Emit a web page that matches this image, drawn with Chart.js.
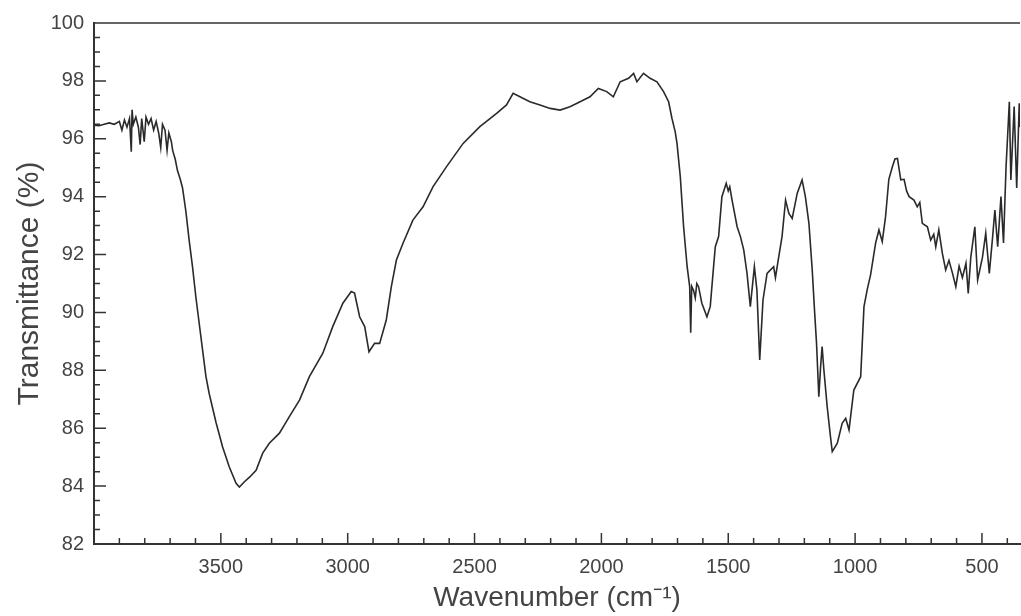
<!DOCTYPE html>
<html>
<head>
<meta charset="utf-8">
<script src="https://cdn.jsdelivr.net/npm/chart.js@4/dist/chart.umd.min.js"></script>
<style>
  html, body { margin: 0; padding: 0; background: #fff; }
</style>
</head>
<body>
<canvas id="irChart" width="1021" height="616"></canvas>
<script>
// spectrum (wavenumber in cm-1, transmittance in %)
var wavenumbers = [
  4000, 3980, 3960, 3940, 3920, 3900, 3890, 3880, 3870, 3860,
  3853, 3850, 3845, 3835, 3825, 3818, 3812, 3802, 3795, 3785,
  3775, 3765, 3755, 3745, 3737, 3730, 3720, 3712, 3705, 3695,
  3690, 3680, 3671, 3660, 3651, 3638, 3625, 3612, 3598, 3585,
  3572, 3559, 3546, 3519, 3493, 3467, 3440, 3427, 3407, 3388,
  3361, 3335, 3309, 3269, 3230, 3190, 3151, 3098, 3059, 3019,
  2986, 2973, 2953, 2933, 2916, 2894, 2874, 2848, 2828, 2808,
  2782, 2743, 2703, 2664, 2611, 2545, 2479, 2413, 2374, 2348,
  2321, 2282, 2242, 2202, 2163, 2124, 2084, 2045, 2012, 1979,
  1953, 1926, 1893, 1873, 1860, 1834, 1808, 1781, 1755, 1735,
  1722, 1709, 1702, 1689, 1676, 1662, 1652, 1648, 1644, 1637,
  1630, 1624, 1617, 1604, 1584, 1571, 1560, 1551, 1538, 1525,
  1508, 1500, 1494, 1485, 1465, 1452, 1439, 1426, 1413, 1397,
  1387, 1376, 1363, 1347, 1321, 1314, 1301, 1288, 1274, 1261,
  1248, 1228, 1209, 1196, 1182, 1169, 1160, 1152, 1143, 1136,
  1130, 1123, 1110, 1097, 1090, 1070, 1051, 1037, 1024, 1005,
  978, 965, 952, 939, 919, 906, 893, 880, 867, 853,
  843, 833, 820, 807, 797, 787, 768, 755, 745, 735,
  715, 702, 690, 682, 670, 656, 643, 630, 616, 603,
  590, 577, 563, 554, 544, 528, 517, 498, 485, 471,
  458, 449, 438, 425, 415, 405, 392, 386, 373, 363,
  353, 350
];
var transmittance = [
  96.47, 96.45, 96.50, 96.55, 96.50, 96.60, 96.30, 96.65, 96.40, 96.70,
  95.55, 97.00, 96.50, 96.75, 96.40, 95.80, 96.70, 95.90, 96.75, 96.50,
  96.70, 96.30, 96.60, 96.20, 95.70, 96.50, 96.30, 95.60, 96.20, 95.90,
  95.60, 95.30, 94.90, 94.60, 94.30, 93.50, 92.50, 91.60, 90.50, 89.60,
  88.70, 87.80, 87.20, 86.20, 85.35, 84.67, 84.10, 83.97, 84.15, 84.30,
  84.55, 85.14, 85.48, 85.83, 86.40, 86.97, 87.78, 88.59, 89.51, 90.32,
  90.72, 90.67, 89.85, 89.51, 88.64, 88.93, 88.93, 89.74, 90.89, 91.81,
  92.39, 93.19, 93.65, 94.34, 95.03, 95.84, 96.42, 96.88, 97.17, 97.57,
  97.45, 97.28, 97.17, 97.05, 96.99, 97.11, 97.28, 97.45, 97.74, 97.63,
  97.45, 97.97, 98.09, 98.26, 97.97, 98.26, 98.09, 97.97, 97.63, 97.28,
  96.71, 96.24, 95.84, 94.69, 92.96, 91.58, 90.89, 89.30, 90.90, 90.77,
  90.50, 91.00, 90.89, 90.32, 89.85, 90.20, 91.36, 92.27, 92.62, 94.00,
  94.46, 94.20, 94.34, 93.88, 92.96, 92.62, 92.16, 91.35, 90.20, 91.58,
  90.77, 88.36, 90.43, 91.35, 91.58, 91.20, 91.92, 92.62, 93.88, 93.42,
  93.25, 94.12, 94.58, 94.00, 93.08, 91.47, 90.08, 88.93, 87.09, 88.12,
  88.82, 88.01, 86.74, 85.70, 85.19, 85.48, 86.17, 86.34, 85.94, 87.32,
  87.78, 90.20, 90.80, 91.30, 92.40, 92.85, 92.45, 93.30, 94.60, 95.03,
  95.30, 95.32, 94.58, 94.60, 94.20, 94.00, 93.88, 93.65, 93.80, 93.08,
  92.96, 92.50, 92.70, 92.27, 92.85, 92.04, 91.47, 91.80, 91.35, 90.89,
  91.60, 91.20, 91.70, 90.66, 91.90, 92.96, 91.12, 91.90, 92.74, 91.35,
  92.60, 93.54, 92.27, 94.00, 92.40, 95.03, 97.28, 94.58, 97.11, 94.30,
  97.23, 96.40
];
var xTickValues = [3500, 3000, 2500, 2000, 1500, 1000, 500];
var yTickValues = [82, 84, 86, 88, 90, 92, 94, 96, 98, 100];

var axisColor = '#333';
var fontFamily = 'Liberation Sans, Arial, sans-serif';

// inward tick marks plus the top frame line
var innerTicks = {
    id: 'innerTicks',
    afterDraw: function (chart) {
        var ctx = chart.ctx;
        var xs = chart.scales.x;
        var ys = chart.scales.y;
        var area = chart.chartArea;
        ctx.save();
        ctx.strokeStyle = axisColor;
        ctx.lineWidth = 1.5;
        ctx.beginPath();
        ctx.moveTo(area.left, area.top);
        ctx.lineTo(area.right, area.top);
        for (var w = 3900; w >= 400; w -= 100) {
            var px = xs.getPixelForValue(w);
            var lx = (w % 500 === 0) ? 11 : 6;
            ctx.moveTo(px, area.bottom);
            ctx.lineTo(px, area.bottom - lx);
        }
        for (var v = 82.5; v < 100; v += 0.5) {
            var py = ys.getPixelForValue(v);
            var ly = (v % 2 === 0) ? 12 : 6;
            ctx.moveTo(area.left, py);
            ctx.lineTo(area.left + ly, py);
        }
        ctx.stroke();
        ctx.restore();
    }
};

new Chart(document.getElementById('irChart'), {
    type: 'line',
    data: {
        datasets: [{
            data: wavenumbers.map(function (w, i) { return { x: w, y: transmittance[i] }; }),
            borderColor: '#2a2a2a',
            borderWidth: 1.6,
            pointRadius: 0,
            tension: 0,
            fill: false
        }]
    },
    options: {
        responsive: false,
        animation: false,
        devicePixelRatio: 1,
        layout: { padding: { top: 23, right: 1, left: 0, bottom: 0 } },
        plugins: {
            legend: { display: false },
            tooltip: { enabled: false }
        },
        scales: {
            x: {
                type: 'linear',
                reverse: true,
                min: 350,
                max: 4000,
                afterBuildTicks: function (scale) {
                    scale.ticks = xTickValues.map(function (v) { return { value: v }; });
                },
                afterFit: function (scale) { scale.height = 72; },
                grid: { display: false, drawTicks: false },
                border: { display: true, color: axisColor, width: 2 },
                ticks: {
                    padding: 11,
                    color: '#444',
                    font: { family: fontFamily, size: 20 },
                    maxRotation: 0,
                    callback: function (v) { return String(v); }
                },
                title: {
                    display: true,
                    text: 'Wavenumber (cm⁻¹)',
                    color: '#444',
                    font: { family: fontFamily, size: 28 },
                    padding: { top: 0, bottom: 1 }
                }
            },
            y: {
                min: 82,
                max: 100,
                afterBuildTicks: function (scale) {
                    scale.ticks = yTickValues.map(function (v) { return { value: v }; });
                },
                afterFit: function (scale) { scale.width = 94; },
                grid: { display: false, drawTicks: false },
                border: { display: true, color: axisColor, width: 2 },
                ticks: {
                    padding: 10,
                    color: '#444',
                    font: { family: fontFamily, size: 20 },
                    callback: function (v) { return String(v); }
                },
                title: {
                    display: true,
                    text: 'Transmittance (%)',
                    color: '#444',
                    font: { family: fontFamily, size: 30 },
                    padding: { top: 12, bottom: 0 }
                }
            }
        }
    },
    plugins: [innerTicks]
});
</script>
</body>
</html>
